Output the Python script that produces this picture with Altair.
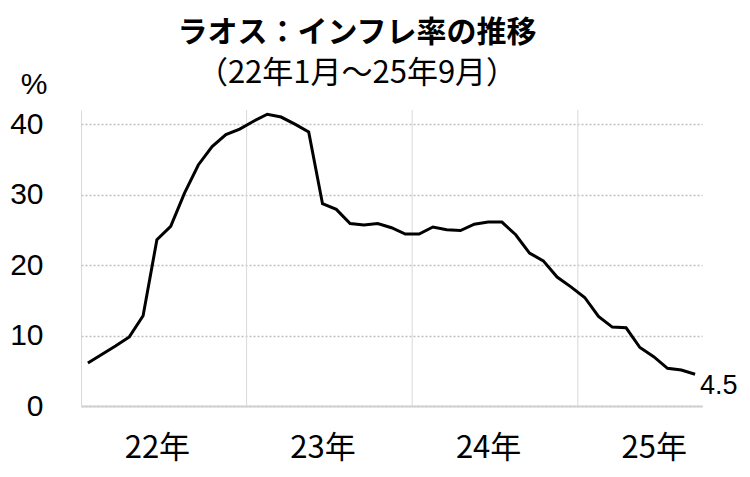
import altair as alt
import pandas as pd

# ---- data ----
months = (
    [f"2022-{m:02d}" for m in range(1, 13)]
    + [f"2023-{m:02d}" for m in range(1, 13)]
    + [f"2024-{m:02d}" for m in range(1, 13)]
    + [f"2025-{m:02d}" for m in range(1, 10)]
)
vals_2022 = [6.1, 7.3, 8.5, 9.8, 12.8, 23.6, 25.5, 30.2, 34.2, 36.8, 38.5, 39.3]
vals_2023 = [40.4, 41.4, 41.0, 40.0, 38.9, 28.7, 27.9, 25.9, 25.7, 25.9, 25.3, 24.4]
vals_2024 = [24.4, 25.4, 25.0, 24.9, 25.8, 26.1, 26.1, 24.3, 21.7, 20.6, 18.3, 16.9]
vals_2025 = [15.4, 12.7, 11.2, 11.1, 8.3, 7.0, 5.35, 5.1, 4.5]
values = vals_2022 + vals_2023 + vals_2024 + vals_2025

year_labels = ["22年", "23年", "24年", "25年"]
y_ticks = [0, 10, 20, 30, 40]
title_text = "ラオス：インフレ率の推移"
subtitle_text = "（22年1月～25年9月）"
unit_text = "%"

# ---- tables ----
df = pd.DataFrame({"month": months, "value": values})
df["pos"] = df.index + 0.5
n_months = len(months)
label_pos = [12 * k + 5.5 for k in range(len(year_labels))]
bounds = pd.DataFrame({"b": [12 * k for k in range(1, len(year_labels))]})
last = df.tail(1).copy()
last["label"] = last["value"].map(lambda v: f"{v:.1f}")

label_expr = "[" + ",".join(f"'{l}'" for l in year_labels) + "][floor(datum.value / 12)]"

W, H = 621, 296
FONT_JP = "Noto Sans CJK JP"
FONT_NUM = "Liberation Sans"

x_enc = alt.X(
    "pos:Q",
    scale=alt.Scale(domain=[0, n_months], nice=False, zero=False),
    axis=alt.Axis(
        values=label_pos,
        labelExpr=label_expr,
        grid=False,
        ticks=False,
        domainColor="#d0d0d0",
        domainWidth=2,
        labelFont=FONT_JP,
        labelFontSize=31,
        labelColor="black",
        labelBaseline="middle",
        labelPadding=42,
        labelFlush=False,
        labelOverlap=False,
        title=None,
    ),
)
y_enc = alt.Y(
    "value:Q",
    scale=alt.Scale(domain=[0, 42], nice=False),
    axis=alt.Axis(
        values=y_ticks,
        grid=True,
        gridDash=[2, 2],
        gridColor="#bfbfbf",
        gridWidth=1.5,
        ticks=False,
        domainColor="#d9d9d9",
        domainWidth=1,
        labelFont=FONT_NUM,
        labelFontSize=30,
        labelColor="black",
        labelPadding=38,
        title=None,
    ),
)

line = alt.Chart(df).mark_line(color="black", strokeWidth=3).encode(x=x_enc, y=y_enc)

vrules = alt.Chart(bounds).mark_rule(color="#d9d9d9", strokeWidth=1).encode(
    x=alt.X("b:Q"), y=alt.datum(0), y2=alt.datum(42)
)

end_label = alt.Chart(last).mark_text(
    align="left", baseline="middle", dx=5, dy=12, fontSize=27, font=FONT_NUM, color="black"
).encode(x="pos:Q", y="value:Q", text="label:N")

title = alt.Chart(pd.DataFrame({"t": [title_text]})).mark_text(
    font=FONT_JP, fontSize=30, fontWeight="bold", align="center", baseline="middle", color="black"
).encode(x=alt.value(276), y=alt.value(-77), text="t:N")

subtitle = alt.Chart(pd.DataFrame({"t": [subtitle_text]})).mark_text(
    font=FONT_JP, fontSize=31, align="center", baseline="middle", color="black"
).encode(x=alt.value(276), y=alt.value(-36), text="t:N")

unit = alt.Chart(pd.DataFrame({"t": [unit_text]})).mark_text(
    font=FONT_NUM, fontSize=30, align="center", baseline="middle", color="black"
).encode(x=alt.value(-47), y=alt.value(-25), text="t:N")

chart = (
    alt.layer(vrules, line, end_label, title, subtitle, unit)
    .properties(
        width=W,
        height=H,
        padding={"left": 73, "top": 102, "right": 40, "bottom": 63},
        autosize=alt.AutoSizeParams(type="none"),
        background="white",
    )
    .configure_view(stroke=None)
)

chart.save("out.html", embed_options={"renderer": "svg", "actions": False})
